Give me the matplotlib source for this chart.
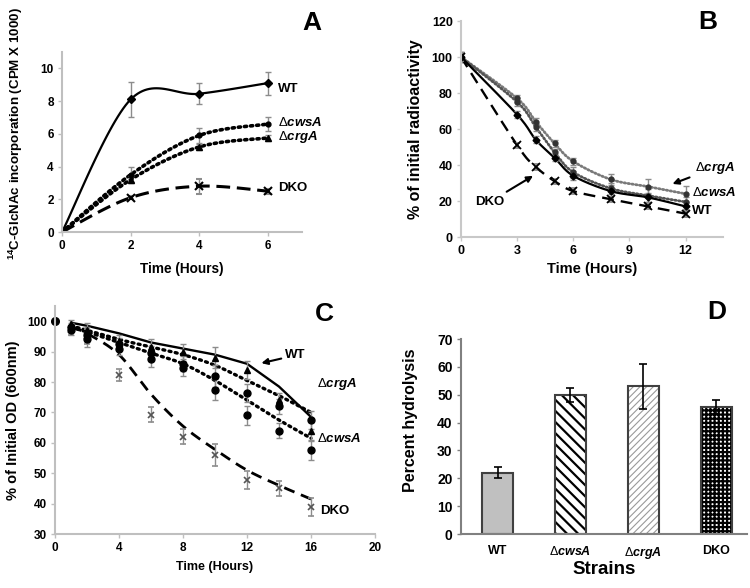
import numpy as np
import matplotlib
matplotlib.use("Agg")
import matplotlib.pyplot as plt

plt.rcParams['font.family'] = ['Liberation Sans', 'DejaVu Sans']
plt.rcParams['font.weight'] = 'bold'
plt.rcParams['axes.labelweight'] = 'bold'
plt.rcParams['mathtext.fontset'] = 'custom'
plt.rcParams['mathtext.rm'] = 'Liberation Sans:weight=normal'
plt.rcParams['mathtext.it'] = 'Liberation Sans:italic:bold'
plt.rcParams['mathtext.bf'] = 'Liberation Sans:bold'

# ---------------- Data ----------------
# Panel A
a_time = [0, 2, 4, 6]
a_wt = [0, 8.1, 8.45, 9.1]
a_wt_err = [0.1, 1.05, 0.65, 0.7]
a_cwsA = [0, 3.5, 5.9, 6.6]
a_cwsA_err = [0.1, 0.45, 0.45, 0.45]
a_crgA = [0, 3.2, 5.2, 5.75]
a_crgA_err = [0.1, 0.2, 0.2, 0.2]
a_dko = [0, 2.1, 2.8, 2.5]
a_dko_err = [0.1, 0.1, 0.45, 0.15]

# Panel B
b_time = [0, 3, 4, 5, 6, 8, 10, 12]
b_wt = [100, 68, 54, 44, 34, 25.5, 22, 17]
b_wt_err = [3, 2, 2, 2, 2.5, 2.5, 2.5, 2.5]
b_cwsA = [100, 75, 61, 47, 36, 27, 23, 19.5]
b_cwsA_err = [3, 2, 2, 2, 3, 3, 3.5, 3]
b_crgA = [100, 77, 64, 52, 42, 32, 28, 24]
b_crgA_err = [3, 2, 2, 2, 2, 3, 4, 4.5]
b_dko = [100, 51, 39, 31, 25.5, 21, 17, 13]
b_dko_err = [2, 1.5, 1.5, 1.5, 1.5, 1.5, 1.5, 2]

# Panel C
c_time = [1, 2, 4, 6, 8, 10, 12, 14, 16]
c_wt_pts = [99, 97, 93.5, 91.5, 90, 88, 84, 74, 64]
c_crgA_pts = [98, 95.5, 92.5, 89.5, 86, 82, 76.5, 72, 67.5]
c_cwsA_pts = [97, 94, 91, 87.5, 84.5, 77.5, 69, 64, 57.5]
c_dko_pts = [97, 95, 82.3, 69.3, 62, 56, 47.8, 45, 38.8]
c_err = [1.5, 2.5, 2, 2.5, 2.5, 3.5, 3, 2.5, 3]
c_start_time = [0]
c_start_val = [100]
c_wt_line = [99.5, 98.5, 96, 93, 91, 89, 86, 78.5, 68.5]
c_crgA_line = [98.5, 97, 94, 91.5, 89, 85.5, 80.5, 75.5, 70]
c_cwsA_line = [98, 96.5, 93, 89.5, 86, 80.5, 74, 67.5, 61.5]
c_dko_line = [98, 96, 89, 76, 65.5, 57.8, 51, 46, 41.5]

# Panel D
d_strains = [r"WT", r"$\Delta\mathit{cwsA}$", r"$\Delta\mathit{crgA}$", r"DKO"]
d_values = [22, 50, 53, 45.5]
d_err = [2, 2.5, 8, 2.5]


def smooth(x, y, n=30):
    """Excel-style smoothed line (cubic Bezier through the points)."""
    pts = np.column_stack([x, y]).astype(float)
    P = np.vstack([pts[0], pts, pts[-1]])
    out = []
    t = np.linspace(0, 1, n)[:, None]
    for i in range(1, len(P) - 2):
        p0, p1, p2, p3 = P[i - 1], P[i], P[i + 1], P[i + 2]
        c1 = p1 + (p2 - p0) / 6
        c2 = p2 - (p3 - p1) / 6
        seg = (1 - t) ** 3 * p1 + 3 * (1 - t) ** 2 * t * c1 + 3 * (1 - t) * t ** 2 * c2 + t ** 3 * p2
        out.append(seg if i == 1 else seg[1:])
    s = np.vstack(out)
    return s[:, 0], s[:, 1]


def style_axes(ax, spine_color='#bfbfbf', lw=1.5, labelsize=8.5):
    for s in ['top', 'right']:
        ax.spines[s].set_visible(False)
    for s in ['left', 'bottom']:
        ax.spines[s].set_color(spine_color)
        ax.spines[s].set_linewidth(lw)
    ax.tick_params(axis='both', direction='out', length=3, width=1,
                   color=spine_color, labelsize=labelsize, pad=3)


fig = plt.figure(figsize=(7.5, 5.88), dpi=100)
ERRC = '#8c8c8c'

# ---------------- Panel A ----------------
axA = fig.add_axes([0.0827, 0.6054, 0.32, 0.3061])
sx, sy = smooth(a_time, a_wt)
axA.plot(sx, sy, '-', color='black', lw=1.6)
axA.errorbar(a_time, a_wt, yerr=a_wt_err, fmt='D', ms=4, color='black',
             ecolor=ERRC, elinewidth=1, capsize=2.5, capthick=1)
sx, sy = smooth(a_time, a_cwsA)
axA.plot(sx, sy, color='black', lw=2.6, linestyle=(0, (0.6, 1.1)), dash_capstyle='round')
axA.errorbar(a_time, a_cwsA, yerr=a_cwsA_err, fmt='o', ms=3.5, color='black',
             ecolor=ERRC, elinewidth=1, capsize=2.5, capthick=1)
sx, sy = smooth(a_time, a_crgA)
axA.plot(sx, sy, color='black', lw=2.6, linestyle=(0, (0.6, 1.1)), dash_capstyle='round')
axA.errorbar(a_time, a_crgA, yerr=a_crgA_err, fmt='^', ms=5, color='black',
             ecolor=ERRC, elinewidth=1, capsize=2.5, capthick=1)
sx, sy = smooth(a_time, a_dko)
axA.plot(sx, sy, color='black', lw=2.2, linestyle=(0, (4.5, 2.2)))
axA.errorbar(a_time, a_dko, yerr=a_dko_err, fmt='x', ms=6, mew=1.5, color='black',
             ecolor=ERRC, elinewidth=1, capsize=2.5, capthick=1)
axA.set_xlim(0, 7)
axA.set_ylim(0, 11)
axA.set_xticks([0, 2, 4, 6])
axA.set_yticks([0, 2, 4, 6, 8, 10])
style_axes(axA)
axA.set_xlabel('Time (Hours)', fontsize=9.8, labelpad=7)
axA.set_ylabel(r'$^{\mathbf{14}}$C-GlcNAc incorporation (CPM X 1000)', fontsize=9.6)
axA.yaxis.set_label_coords(-0.155, 0.545)
axA.text(6.3, 8.75, 'WT', fontsize=9.5, va='center', ha='left')
axA.text(6.3, 6.7, r'$\Delta\mathit{cwsA}$', fontsize=9.5, va='center', ha='left')
axA.text(6.3, 5.8, r'$\Delta\mathit{crgA}$', fontsize=9.5, va='center', ha='left')
axA.text(6.3, 2.7, 'DKO', fontsize=9.5, va='center', ha='left')

# ---------------- Panel B ----------------
axB = fig.add_axes([0.6147, 0.5969, 0.3493, 0.3673])
sx, sy = smooth(b_time, b_crgA)
axB.plot(sx, sy, color='#7a7a7a', lw=2.0, linestyle=(0, (0.5, 0.9)), dash_capstyle='round')
axB.errorbar(b_time, b_crgA, yerr=b_crgA_err, fmt='o', ms=3.5, color='#333333',
             ecolor=ERRC, elinewidth=1, capsize=2.5, capthick=1)
sx, sy = smooth(b_time, b_cwsA)
axB.plot(sx, sy, color='#555555', lw=2.0, linestyle=(0, (0.5, 0.9)), dash_capstyle='round')
axB.errorbar(b_time, b_cwsA, yerr=b_cwsA_err, fmt='o', ms=3.5, color='#333333',
             ecolor=ERRC, elinewidth=1, capsize=2.5, capthick=1)
sx, sy = smooth(b_time, b_wt)
axB.plot(sx, sy, '-', color='black', lw=1.6)
axB.errorbar(b_time, b_wt, yerr=b_wt_err, fmt='D', ms=3.5, color='black',
             ecolor=ERRC, elinewidth=1, capsize=2.5, capthick=1)
sx, sy = smooth(b_time, b_dko)
axB.plot(sx, sy, color='black', lw=1.7, linestyle=(0, (5, 3)))
axB.errorbar(b_time, b_dko, yerr=b_dko_err, fmt='x', ms=5.5, mew=1.3, color='black',
             ecolor=ERRC, elinewidth=1, capsize=2.5, capthick=1)
axB.set_xlim(0, 14)
axB.set_ylim(0, 120)
axB.set_xticks([0, 3, 6, 9, 12])
axB.set_yticks(range(0, 121, 20))
style_axes(axB, spine_color='#c8c8c8', labelsize=9)
axB.set_xlabel('Time (Hours)', fontsize=10.5, labelpad=3)
axB.set_ylabel('% of initial radioactivity', fontsize=11.5, labelpad=6)
axB.text(12.35, 14.5, 'WT', fontsize=9.5, va='center', ha='left')
axB.text(12.35, 24.5, r'$\Delta\mathit{cwsA}$', fontsize=9.5, va='center', ha='left')
axB.annotate(r'$\Delta\mathit{crgA}$', xy=(11.3, 29.5), xytext=(12.5, 38.5),
             fontsize=9.5, va='center', ha='left',
             arrowprops=dict(arrowstyle='-|>', color='black', lw=1.5,
                             mutation_scale=9, shrinkA=2, shrinkB=0))
axB.annotate('DKO', xy=(3.85, 34), xytext=(0.75, 19.5),
             fontsize=9.5, va='center', ha='left',
             arrowprops=dict(arrowstyle='-|>', color='black', lw=1.5,
                             mutation_scale=9, shrinkA=2, shrinkB=0))

# ---------------- Panel C ----------------
axC = fig.add_axes([0.0733, 0.0918, 0.4267, 0.3878])
axC.plot(c_time, c_wt_line, '-', color='black', lw=1.7)
sx, sy = smooth(c_time, c_crgA_line)
axC.plot(sx, sy, color='black', lw=2.4, linestyle=(0, (0.6, 1.3)), dash_capstyle='round')
sx, sy = smooth(c_time, c_cwsA_line)
axC.plot(sx, sy, color='black', lw=2.4, linestyle=(0, (0.6, 1.3)), dash_capstyle='round')
sx, sy = smooth(c_time, c_dko_line)
axC.plot(sx, sy, color='black', lw=2.0, linestyle=(0, (4, 2.5)))
axC.errorbar(c_time, c_dko_pts, yerr=c_err, fmt='x', ms=4, mew=1.2, color='#555555',
             ecolor=ERRC, elinewidth=1, capsize=2, capthick=1)
axC.errorbar(c_time, c_wt_pts, yerr=c_err, fmt='^', ms=5, color='black',
             ecolor=ERRC, elinewidth=1, capsize=2, capthick=1)
axC.errorbar(c_time, c_crgA_pts, yerr=c_err, fmt='o', ms=5, color='black',
             ecolor=ERRC, elinewidth=1, capsize=2, capthick=1)
axC.errorbar(c_time, c_cwsA_pts, yerr=c_err, fmt='o', ms=5, color='black',
             ecolor=ERRC, elinewidth=1, capsize=2, capthick=1)
axC.plot(c_start_time, c_start_val, 'o', ms=5.5, color='black', clip_on=False)
axC.set_xlim(0, 20)
axC.set_ylim(30, 105)
axC.set_xticks([0, 4, 8, 12, 16, 20])
axC.set_yticks(range(30, 101, 10))
style_axes(axC, labelsize=8.5)
axC.set_xlabel('Time (Hours)', fontsize=9, labelpad=5)
axC.set_ylabel('% of Initial OD (600nm)', fontsize=10.5, labelpad=5)
axC.annotate('WT', xy=(12.9, 86.2), xytext=(14.4, 88.8),
             fontsize=9.5, va='center', ha='left',
             arrowprops=dict(arrowstyle='-|>', color='black', lw=1.5,
                             mutation_scale=9, shrinkA=1, shrinkB=0))
axC.text(16.4, 79.5, r'$\Delta\mathit{crgA}$', fontsize=9.5, va='center', ha='left')
axC.text(16.4, 61.4, r'$\Delta\mathit{cwsA}$', fontsize=9.5, va='center', ha='left')
axC.text(16.6, 37.6, 'DKO', fontsize=9.5, va='center', ha='left')

# ---------------- Panel D ----------------
axD = fig.add_axes([0.6147, 0.0918, 0.3813, 0.3316])
pos = np.arange(len(d_strains))
bw = 0.43
bars_face = ['#c0c0c0', 'white', 'white', 'white']
hatches = ['', '\\\\\\', '/////', '++++']
hatch_cols = ['#404040', 'black', '#9a9a9a', 'black']
hatch_lws = [1.0, 1.6, 0.8, 1.6]
for i in range(len(d_strains)):
    with plt.rc_context({'hatch.linewidth': hatch_lws[i]}):
        axD.bar(pos[i], d_values[i], width=bw, color=bars_face[i],
                edgecolor=hatch_cols[i], hatch=hatches[i], lw=0)
    axD.bar(pos[i], d_values[i], width=bw, fill=False,
            edgecolor='#404040', lw=1.5)
axD.errorbar(pos, d_values, yerr=d_err, fmt='none', ecolor='black',
             elinewidth=1.2, capsize=3, capthick=1.2)
axD.set_xlim(-0.5, 3.42)
axD.set_ylim(0, 70)
axD.set_yticks(range(0, 71, 10))
axD.set_xticks(pos)
axD.set_xticklabels(d_strains)
style_axes(axD, spine_color='#808080', labelsize=10)
axD.tick_params(axis='x', length=0, labelsize=9, pad=8)
axD.set_xlabel('Strains', fontsize=13.5, labelpad=0)
axD.set_ylabel('Percent hydrolysis', fontsize=11.5)
axD.yaxis.set_label_coords(-0.15, 0.585)

# Panel letters
fig.text(0.416, 0.961, 'A', fontsize=19, ha='center', va='center')
fig.text(0.944, 0.962, 'B', fontsize=19, ha='center', va='center')
fig.text(0.433, 0.466, 'C', fontsize=19, ha='center', va='center')
fig.text(0.956, 0.469, 'D', fontsize=19, ha='center', va='center')

fig.savefig('out.png', dpi=100)
